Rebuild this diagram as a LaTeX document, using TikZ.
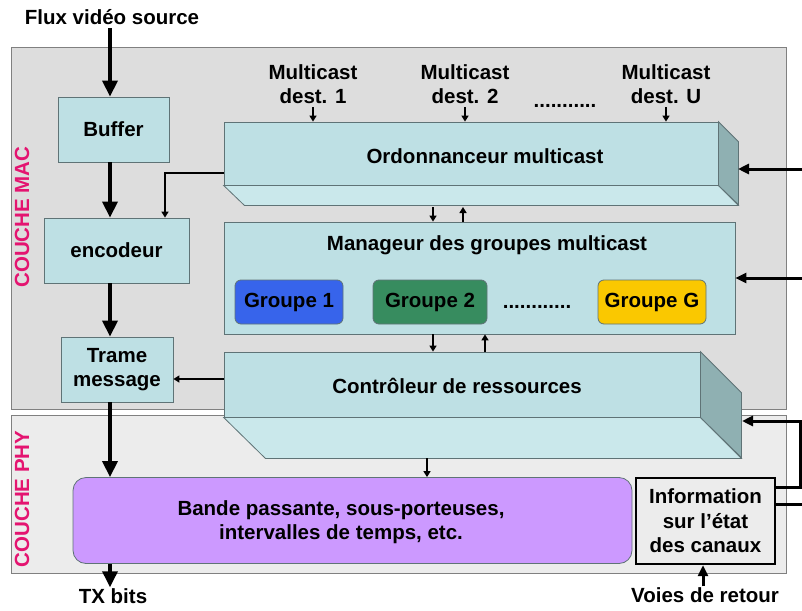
\documentclass[tikz,border=0pt]{standalone}
\usepackage{fontspec}
\setmainfont{Liberation Sans}
\usetikzlibrary{arrows.meta}

\definecolor{macgray}{RGB}{221,221,221}
\definecolor{phygray}{RGB}{236,236,236}
\definecolor{boxcyan}{RGB}{190,224,228}
\definecolor{boxside}{RGB}{143,176,178}
\definecolor{boxbottom}{RGB}{202,232,235}
\definecolor{boxline}{RGB}{95,115,118}
\definecolor{couche}{RGB}{228,20,112}
\definecolor{grpblue}{RGB}{55,100,235}
\definecolor{grpgreen}{RGB}{55,140,95}
\definecolor{grpyellow}{RGB}{250,200,0}
\definecolor{bandviolet}{RGB}{204,153,255}

\begin{document}
\begin{tikzpicture}[x=1pt,y=-1pt,
    font=\fontsize{20.5}{24.5}\selectfont\bfseries,
    panel/.style={draw=gray,line width=0.8pt},
    bloc/.style={draw=boxline,fill=boxcyan,line width=0.8pt,inner sep=0pt},
    groupe/.style={draw=boxline,rounded corners=6pt,minimum width=108pt,minimum height=44pt,line width=0.8pt},
    grosse/.style={line width=3.5pt,-{Triangle[length=16pt,width=15pt]}},
    fine/.style={line width=1.6pt,-{Triangle[length=6pt,width=7pt]}},
    retour/.style={line width=3pt,-{Triangle[length=11pt,width=10pt]}}]
        \useasboundingbox (0,0) rectangle (802,610);
        \coordinate (spine) at (110,0);

        % les deux couches
        \node[panel,fill=macgray,minimum width=775pt,minimum height=362pt] (mac) at (398.5,228) {};
        \node[panel,fill=phygray,minimum width=775pt,minimum height=158pt] (phy) at (398.5,494) {};
        \node[rotate=90,text=couche] (macname) at (22,217) {COUCHE MAC};
        \node[rotate=90,text=couche] (phyname) at (22,499) {COUCHE PHY};

        % colonne de gauche
        \node (flux) at (112,17) {Flux vidéo source};
        \node[bloc,minimum width=111pt,minimum height=65pt] (buffer) at (113.5,129.5) {Buffer};
        \node[bloc,minimum width=145pt,minimum height=65pt] (encodeur) at (116.5,250.5) {encodeur};
        \node[bloc,align=center,minimum width=112pt,minimum height=65pt] (trame) at (117,369.5) {Trame\\message};

        % ordonnanceur
        \foreach \x/\n in {313/1,465/2,666/U}
            \node[align=center] (dest\n) at (\x,84) {Multicast\\dest. \n};
        \node[anchor=base] (destdots) at (565,107) {...........};
        \node[bloc,minimum width=494pt,minimum height=63pt] (ord) at (471,153.5) {};
        \node (ordtitle) at (485,156) {Ordonnanceur multicast};
        \filldraw[draw=boxline,fill=boxbottom,line width=0.8pt] (ord.south west) -- (ord.south east) -- ++(20,20) -- ++(-494,0) -- cycle;
        \filldraw[draw=boxline,fill=boxside,line width=0.8pt] (ord.north east) -- ++(20,20) -- ++(0,63) -- (ord.south east) -- cycle;
        \coordinate (ordcote) at (738,169);

        % manageur
        \node[bloc,minimum width=511pt,minimum height=112pt] (mgr) at (479.5,278) {};
        \node (mgrtitle) at (487,245) {Manageur des groupes multicast};
        \node[groupe,fill=grpblue] (g1) at (289,302) {Groupe 1};
        \node[groupe,fill=grpgreen,minimum width=114pt] (g2) at (430,302) {Groupe 2};
        \node[anchor=base] (gdots) at (537,308) {............};
        \node[groupe,fill=grpyellow] (gG) at (652,302) {Groupe G};

        % controleur
        \node[bloc,minimum width=476pt,minimum height=65pt] (ctrl) at (462,384.5) {};
        \node (ctrltitle) at (457,386) {Contrôleur de ressources};
        \filldraw[draw=boxline,fill=boxbottom,line width=0.8pt] (ctrl.south west) -- (ctrl.south east) -- ++(41,41) -- ++(-476,0) -- cycle;
        \filldraw[draw=boxline,fill=boxside,line width=0.8pt] (ctrl.north east) -- ++(41,41) -- ++(0,65) -- (ctrl.south east) -- cycle;
        \coordinate (ctrlcote) at (742,421);
        \coordinate (ctrlbas) at (427,458);

        % couche physique
        \node[draw=boxline,fill=bandviolet,rounded corners=13pt,line width=0.8pt,
              minimum width=559pt,minimum height=86pt] (bande) at (352.5,520.5) {};
        \node[align=center] (bandetext) at (341,522) {Bande passante, sous-porteuses,\\intervalles de temps, etc.};
        \node[draw=black,fill=phygray,line width=2.4pt,align=center,
              minimum width=139pt,minimum height=86pt] (info) at (705.5,521) {Information\\sur l’état\\des canaux};
        \node[inner sep=1pt] (tx) at (113,596) {TX bits};
        \node[inner sep=1pt] (voies) at (705,595) {Voies de retour};

        % flux principal
        \draw[grosse] (flux.south -| spine) -- (buffer.north -| spine);
        \draw[grosse] (buffer.south -| spine) -- (encodeur.north -| spine);
        \draw[grosse] (encodeur.south -| spine) -- (trame.north -| spine);
        \draw[grosse] (trame.south -| spine) -- (bande.north -| spine);
        \draw[grosse] (bande.south -| spine) -- (tx.north -| spine);

        % liaisons internes
        \foreach \n in {1,2,U}
            \draw[fine] (dest\n.south) -- (dest\n.south |- ord.north);
        \draw[fine] (ord.west |- 0,173) -| (encodeur.north -| 165,0);
        \draw[fine] (ctrl.west |- 0,379) -- (trame.east |- 0,379);
        \draw[fine] (433,207) -- (mgr.north -| 433,0);
        \draw[fine] (mgr.north -| 463,0) -- (463,207);
        \draw[fine] (mgr.south -| 433,0) -- (ctrl.north -| 433,0);
        \draw[fine] (ctrl.north -| 485,0) -- (mgr.south -| 485,0);
        \draw[fine] (ctrlbas) -- (bande.north -| ctrlbas);

        % voies de retour
        \draw[retour] (voies.north -| 703,0) -- (info.south -| 703,0);
        \draw[retour] (info.east |- 0,487) -- (800,487) -- (800,421) -- (ctrlcote);
        \draw[line width=3pt] (info.east |- 0,504) -- (806,504) -- (806,169);
        \draw[retour] (806,169) -- (ordcote);
        \draw[retour] (806,278) -- (mgr.east);
    \end{tikzpicture}
\end{document}
